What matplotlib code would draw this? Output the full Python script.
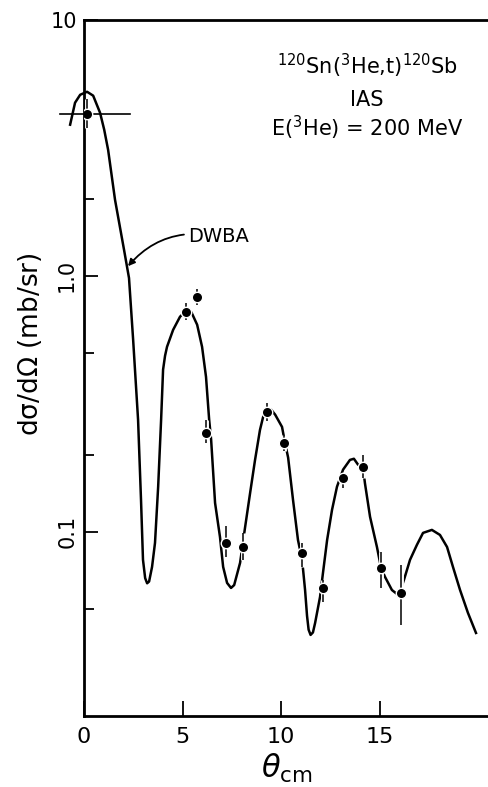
import matplotlib
matplotlib.use('Agg')
import matplotlib.pyplot as plt
import matplotlib.patheffects as pe
from matplotlib.ticker import FixedLocator, NullFormatter

plt.rcParams['font.family'] = ['DejaVu Sans']
plt.rcParams['mathtext.default'] = 'regular'

# measured cross sections, 120Sn(3He,t)120Sb IAS
theta = [0.15, 5.18, 5.74, 6.19, 7.21, 8.07, 9.29, 10.15, 11.07, 12.13, 13.15, 14.16, 15.08, 16.09]
sigma = [4.3, 0.72, 0.83, 0.244, 0.0906, 0.0873, 0.294, 0.223, 0.0828, 0.0604, 0.1626, 0.1795, 0.0723, 0.0578]
sigma_lo = [3.79, 0.67, 0.77, 0.223, 0.080, 0.0776, 0.27, 0.207, 0.073, 0.0533, 0.149, 0.163, 0.0604, 0.0433]
sigma_hi = [4.88, 0.78, 0.89, 0.274, 0.105, 0.099, 0.32, 0.240, 0.0906, 0.0649, 0.170, 0.200, 0.0835, 0.0743]
theta0_range = [-1.22, 2.34]   # angular bite of the 0 deg point

# DWBA curve
dwba_theta = [-0.71, -0.46, -0.20, 0.15, 0.46, 0.81, 1.02, 1.22, 1.57, 2.03, 2.28, 2.49, 2.74, 2.89, 2.99,
              3.10, 3.20, 3.30, 3.45, 3.60, 3.76, 3.91, 3.96, 4.01, 4.11, 4.21, 4.52, 4.87, 5.23, 5.45,
              5.74, 5.99, 6.19, 6.35, 6.45, 6.65, 6.90, 7.06, 7.26, 7.46, 7.62, 7.92, 8.17, 8.43, 8.68,
              8.93, 9.09, 9.29, 9.50, 9.70, 10.05, 10.20, 10.36, 10.61, 10.86, 11.07, 11.22, 11.32,
              11.40, 11.50, 11.62, 11.73, 11.98, 12.13, 12.34, 12.59, 12.84, 13.15, 13.50, 13.70, 13.91,
              14.16, 14.26, 14.52, 14.87, 15.08, 15.28, 15.63, 15.85, 16.04, 16.24, 16.55, 16.90, 17.21,
              17.66, 18.07, 18.43, 18.73, 19.09, 19.49, 19.90]
dwba_sigma = [3.89, 4.74, 5.09, 5.23, 5.05, 4.33, 3.72, 3.10, 1.98, 1.26, 0.98, 0.562, 0.274, 0.133, 0.0778,
              0.066, 0.063, 0.064, 0.073, 0.0906, 0.150, 0.274, 0.343, 0.430, 0.487, 0.528, 0.615, 0.692,
              0.736, 0.72, 0.644, 0.528, 0.403, 0.274, 0.229, 0.1297, 0.0955, 0.073, 0.0632, 0.0604, 0.062,
              0.0757, 0.1037, 0.142, 0.191, 0.250, 0.281, 0.300, 0.300, 0.287, 0.257, 0.223, 0.195, 0.133,
              0.093, 0.0778, 0.0593, 0.047, 0.0415, 0.0396, 0.0405, 0.0441, 0.0557, 0.0692, 0.093, 0.122,
              0.150, 0.175, 0.191, 0.193, 0.183, 0.179, 0.155, 0.1145, 0.0873, 0.0723, 0.0667, 0.0593,
              0.0575, 0.0585, 0.0649, 0.0778, 0.089, 0.0991, 0.1018, 0.0973, 0.0873, 0.0730, 0.0593,
              0.0483, 0.0403]

x_ticks = [0, 5, 10, 15]
y_ticks = [0.1, 1.0, 10]
y_ticklabels = ['0.1', '1.0', '10']
y_minor = [0.05, 0.2, 0.5, 2]

fig = plt.figure(figsize=(4.89, 7.87), dpi=100)
ax = fig.add_axes([0.172, 0.0902, 0.828, 0.8848])

ax.plot(dwba_theta, dwba_sigma, color='black', lw=1.8, clip_on=False, zorder=2)

yerr = [[s - lo for s, lo in zip(sigma, sigma_lo)], [hi - s for s, hi in zip(sigma, sigma_hi)]]
halo = [pe.Stroke(linewidth=3.5, foreground='white'), pe.Normal()]
eb = ax.errorbar(theta, sigma, yerr=yerr, fmt='o', color='black', ms=7.5, mec='white', mew=1.0,
                 elinewidth=1.1, capsize=0, zorder=4)
for c in eb[2]:
    c.set_path_effects(halo)

# horizontal bar on the first point
ax.plot(theta0_range, [sigma[0], sigma[0]], color='black', lw=1.2, clip_on=False, zorder=3)

ax.set_yscale('log')
ax.set_xlim(0, 20.56)
ax.set_ylim(0.0191, 10)

ax.spines['right'].set_visible(False)
for s in ['left', 'bottom', 'top']:
    ax.spines[s].set_linewidth(2)

ax.set_xticks(x_ticks)
ax.set_xticklabels([str(t) for t in x_ticks], fontsize=16)
ax.set_yticks(y_ticks)
ax.set_yticklabels(y_ticklabels, fontsize=15)
ax.yaxis.set_minor_locator(FixedLocator(y_minor))
ax.yaxis.set_minor_formatter(NullFormatter())
ax.tick_params(axis='x', direction='in', length=11, width=1.3, pad=8, top=False)
ax.tick_params(axis='y', which='major', direction='in', length=10, width=1.3, pad=5)
ax.tick_params(axis='y', which='minor', direction='in', length=7, width=1.3)
for lab in ax.get_yticklabels():
    if lab.get_text() != '10':
        lab.set_rotation(90)
        lab.set_va('center')

fig.text(30 / 489, 1 - 344 / 787, r'd$\sigma$/d$\Omega$ (mb/sr)', rotation=90,
         ha='center', va='center', fontsize=19)
fig.text(287 / 489, 1 - 768 / 787, r'$\mathit{\theta}_{cm}$', ha='center', va='center', fontsize=22)

fig.text(367 / 489, 1 - 66 / 787, r'$^{120}$Sn($^{3}$He,t)$^{120}$Sb', ha='center', va='center', fontsize=15)
fig.text(367 / 489, 1 - 100 / 787, 'IAS', ha='center', va='center', fontsize=15)
fig.text(367 / 489, 1 - 128 / 787, r'E($^{3}$He) = 200 MeV', ha='center', va='center', fontsize=15)

ax.annotate('DWBA', xy=(2.23, 1.09), xytext=(5.28, 1.42), textcoords='data',
            fontsize=14, ha='left', va='center',
            arrowprops=dict(arrowstyle='-|>', color='black', lw=1.3, mutation_scale=10,
                            connectionstyle='arc3,rad=0.3', shrinkA=1, shrinkB=0))

fig.savefig('out.png', dpi=100)
